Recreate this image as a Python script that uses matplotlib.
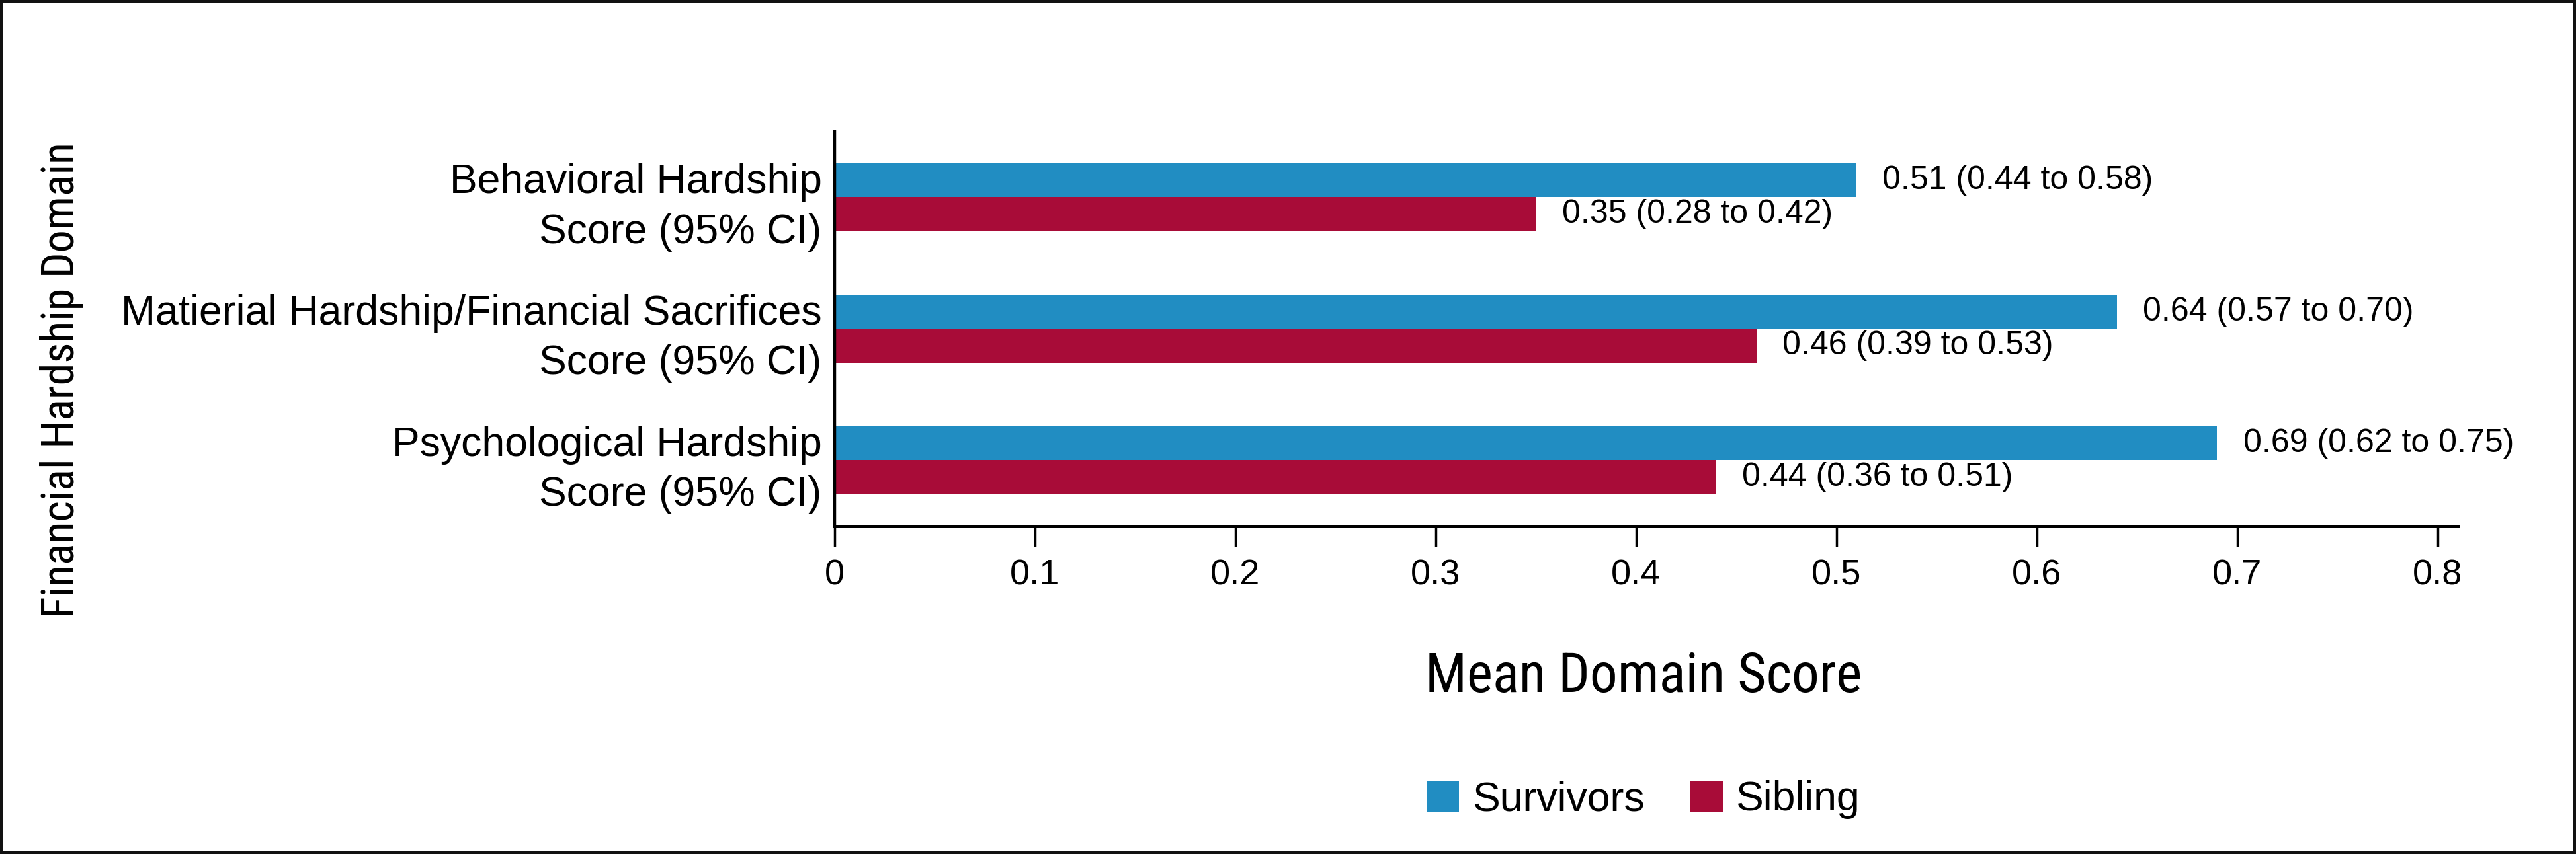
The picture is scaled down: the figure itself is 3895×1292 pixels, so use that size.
import matplotlib
matplotlib.use('Agg')
import matplotlib.pyplot as plt
from matplotlib import font_manager
from matplotlib.patches import Patch, Rectangle
import numpy as np

# data
domains = ['Behavioral Hardship\nScore (95% CI)',
           'Matierial Hardship/Financial Sacrifices\nScore (95% CI)',
           'Psychological Hardship\nScore (95% CI)']
survivors = [0.51, 0.64, 0.69]
survivors_lo = [0.44, 0.57, 0.62]
survivors_hi = [0.58, 0.70, 0.75]
sibling = [0.35, 0.46, 0.44]
sibling_lo = [0.28, 0.39, 0.36]
sibling_hi = [0.42, 0.53, 0.51]
xticks = [0, 0.1, 0.2, 0.3, 0.4, 0.5, 0.6, 0.7, 0.8]
xticklabels = ['0', '0.1', '0.2', '0.3', '0.4', '0.5', '0.6', '0.7', '0.8']

blue = '#218DC2'
red = '#A80C38'

plt.rcParams['font.family'] = ['Liberation Sans', 'DejaVu Sans']
try:
    font_manager.findfont('Liberation Sans Narrow', fallback_to_default=False)
    narrow = ['Liberation Sans Narrow', 'Liberation Sans', 'DejaVu Sans']
except Exception:
    narrow = ['Roboto Condensed', 'Liberation Sans', 'DejaVu Sans']

fig = plt.figure(figsize=(38.95, 12.92), dpi=100)
ax = fig.add_axes([0.324, 0.384, 0.630, 0.462])

y = np.arange(len(domains))
h = 0.26
ax.barh(y - h / 2, survivors, height=h, color=blue, label='Survivors')
ax.barh(y + h / 2, sibling, height=h, color=red, label='Sibling')

# value labels with CI
for i in range(len(domains)):
    ax.text(survivors[i] + 0.013, y[i] - h / 2,
            '%.2f (%.2f to %.2f)' % (survivors[i], survivors_lo[i], survivors_hi[i]),
            va='center', ha='left', fontsize=36)
    ax.text(sibling[i] + 0.013, y[i] + h / 2,
            '%.2f (%.2f to %.2f)' % (sibling[i], sibling_lo[i], sibling_hi[i]),
            va='center', ha='left', fontsize=36)

ax.set_xlim(0, 0.81)
ax.set_ylim(2.5, -0.5)
ax.set_xticks(xticks)
ax.set_xticklabels(xticklabels)
ax.set_yticks(y)
ax.set_yticklabels(domains)
for t in ax.get_yticklabels():
    t.set_linespacing(1.36)

ax.tick_params(axis='x', length=22, width=2.5, pad=14, labelsize=39)
ax.tick_params(axis='y', length=0, pad=14, labelsize=45)

for s in ['top', 'right']:
    ax.spines[s].set_visible(False)
ax.spines['left'].set_linewidth(3.2)
ax.spines['bottom'].set_linewidth(3.6)

fig.text(0.638, 0.19, 'Mean Domain Score', ha='center', va='baseline',
         fontsize=60, family=narrow)
fig.text(0.024, 0.555, 'Financial Hardship Domain', ha='center', va='center',
         rotation=90, fontsize=49, family=narrow)

handles = [Patch(facecolor=blue, label='Survivors'), Patch(facecolor=red, label='Sibling')]
fig.legend(handles=handles, loc='center', bbox_to_anchor=(0.638, 0.0635), ncol=2,
           frameon=False, fontsize=45, handlelength=0.78, handleheight=0.8,
           handletextpad=0.32, columnspacing=1.1, borderaxespad=0, borderpad=0)

fig.patches.append(Rectangle((0, 0), 1, 1, transform=fig.transFigure, fill=False,
                             edgecolor='#111111', linewidth=6, clip_on=False))

plt.savefig('out.png', dpi=100)
